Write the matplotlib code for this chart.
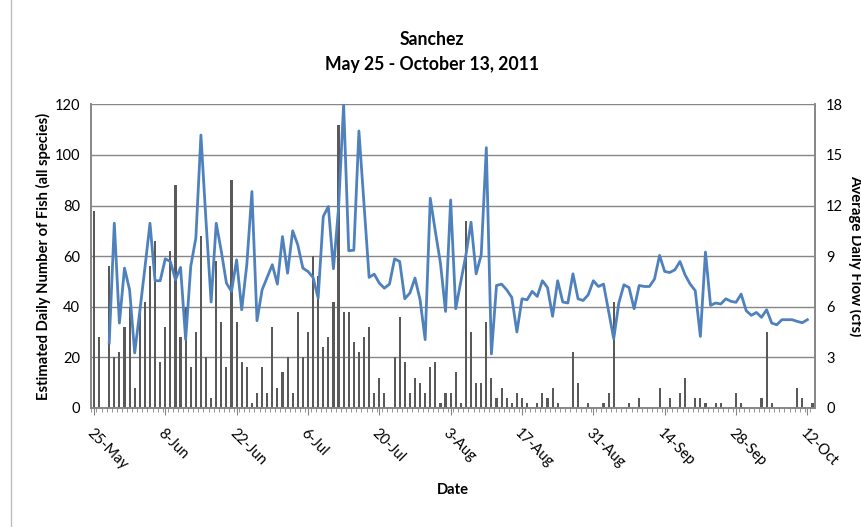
import numpy as np
import pandas as pd
import matplotlib
matplotlib.use("Agg")
import matplotlib.pyplot as plt

## Sanchez fish counts and average daily flow, May 25 - Oct 13, 2011

plt.rcParams['font.family'] = ['Lato', 'DejaVu Sans']

## Dates (one bar per day)
dates = pd.date_range("2011-05-25", "2011-10-13", freq="D")

## Estimated daily number of fish (all species)
fish = [78, 28, 0, 56, 20, 22, 32, 40, 8, 38,
        42, 56, 66, 18, 32, 62, 88, 28, 40, 16,
        30, 68, 20, 4, 58, 34, 16, 90, 34, 18,
        16, 2, 6, 16, 6, 32, 8, 14, 20, 6,
        38, 20, 30, 60, 52, 24, 28, 42, 112, 38,
        38, 26, 22, 28, 32, 6, 12, 6, 0, 20,
        36, 18, 6, 12, 10, 6, 16, 18, 2, 6,
        6, 14, 2, 74, 30, 10, 10, 34, 12, 4,
        8, 4, 2, 6, 4, 2, 0, 2, 6, 4,
        8, 2, 0, 0, 22, 10, 0, 2, 0, 0,
        2, 6, 42, 0, 0, 2, 0, 4, 0, 0,
        0, 8, 0, 4, 0, 6, 12, 0, 4, 4,
        2, 0, 2, 2, 0, 0, 6, 2, 0, 0,
        0, 4, 30, 2, 0, 0, 0, 0, 8, 4,
        0, 2]

## Average daily flow (cfs), no readings first 3 days and last day
nan = np.nan
flow = [nan, nan, nan, 3.85, 10.95, 5.03, 8.29, 7.0, 3.26, 5.72,
        8.29, 10.95, 7.54, 7.54, 8.84, 8.68, 7.6, 8.33, 4.05, 8.39,
        10.07, 16.18, 11.05, 6.28, 10.95, 9.28, 7.4, 6.91, 8.78, 5.82,
        8.49, 12.83, 5.17, 7.0, 7.74, 8.49, 7.34, 10.16, 7.99, 10.5,
        9.67, 8.29, 8.09, 7.74, 6.51, 11.35, 11.94, 8.25, 11.84, 18.0,
        9.32, 9.35, 16.42, 12.04, 7.74, 7.93, 7.4, 7.1, 7.34, 8.84,
        8.68, 6.47, 6.81, 7.7, 6.41, 4.05, 12.43, 10.46, 8.58, 5.72,
        12.33, 5.88, 7.5, 9.08, 11.01, 7.95, 9.08, 15.43, 3.2, 7.26,
        7.34, 7.0, 6.55, 4.5, 6.47, 6.41, 6.91, 6.61, 7.54, 7.14,
        5.43, 7.54, 6.28, 6.22, 7.95, 6.47, 6.37, 6.71, 7.54, 7.2,
        7.34, 5.72, 4.1, 6.22, 7.3, 7.14, 5.88, 7.26, 7.2, 7.2,
        7.64, 9.04, 8.09, 8.03, 8.19, 8.68, 7.89, 7.34, 6.95, 4.24,
        9.24, 6.08, 6.22, 6.16, 6.47, 6.32, 6.26, 6.75, 5.76, 5.49,
        5.66, 5.37, 5.82, 5.03, 4.93, 5.23, 5.23, 5.23, 5.13, 5.05,
        5.23, nan]

fish_ticks = [0, 20, 40, 60, 80, 100, 120]
flow_ticks = [0, 3, 6, 9, 12, 15, 18]

x = np.arange(len(dates))
labels = [d.strftime("%-d-%b") for d in dates]
label_idx = x[::14]

fig = plt.figure(figsize=(8.62, 5.27), dpi=100)
ax = fig.add_axes([0.106, 0.226, 0.8395, 0.576])
ax2 = ax.twinx()

grey = '#868686'

## Bars - fish
ax.bar(x, fish, width=0.42, color='#595959', zorder=2)
ax.set_ylim(0, 120)
ax.set_yticks(fish_ticks)
ax.set_xlim(-0.5, len(dates) - 0.5)
ax.grid(axis='y', color=grey, linewidth=1.0, zorder=0)
ax.set_axisbelow(True)

## Line - flow
ax2.plot(x, flow, color='#4F81BD', linewidth=2.0, zorder=3)
ax2.set_ylim(0, 18)
ax2.set_yticks(flow_ticks)

for a in (ax, ax2):
    a.spines['top'].set_visible(False)
    for s in ('left', 'right', 'bottom'):
        a.spines[s].set_color(grey)
        a.spines[s].set_linewidth(1.2)
    a.tick_params(axis='y', length=0, labelsize=10.5, pad=8)

## x ticks: small mark for every day, labels every 14 days
ax.set_xticks(x - 0.5, minor=True)
ax.set_xticks(label_idx)
ax.set_xticklabels([labels[i] for i in label_idx], rotation=-45,
                   ha='left', va='top', rotation_mode='anchor', fontsize=10.5)
ax.tick_params(axis='x', which='minor', length=3, color=grey, direction='out')
ax.tick_params(axis='x', which='major', length=5, color=grey, pad=8)

ax.set_ylabel("Estimated Daily Number of Fish (all species)", fontsize=10.6,
              fontweight='bold', labelpad=3)
ax2.set_ylabel("Average Daily Flow (cfs)", fontsize=10.8, fontweight='bold',
               rotation=270, labelpad=14)
ax.set_xlabel("Date", fontsize=10.6, fontweight='bold', labelpad=8)

fig.text(0.501, 0.925, "Sanchez", ha='center', va='center', fontsize=12.7,
         fontweight='bold')
fig.text(0.501, 0.877, "May 25 - October 13, 2011", ha='center',
         va='center', fontsize=12.7, fontweight='bold')

## chart area border, left edge visible in the screenshot
fig.add_artist(plt.Line2D([11 / 862, 11 / 862], [0, 1], color='#BFBFBF',
                          linewidth=1.0, transform=fig.transFigure))

fig.savefig("out.png", dpi=100)
